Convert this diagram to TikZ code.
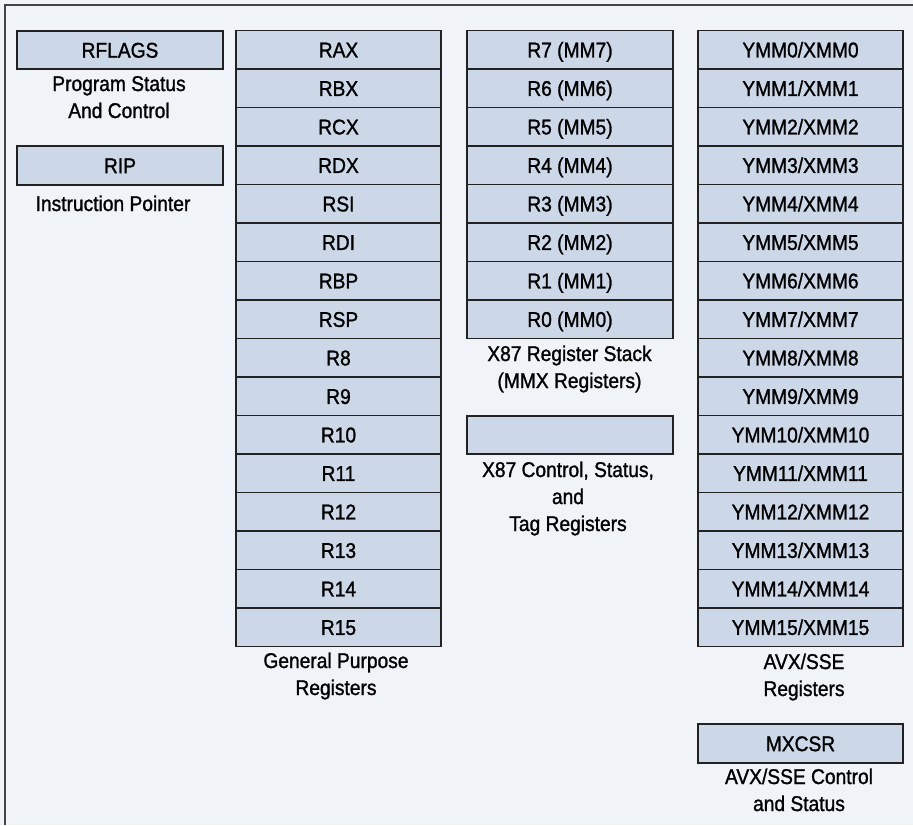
\documentclass[tikz,border=0pt]{standalone}
\usepackage{fontspec}
\setmainfont[FakeStretch=0.9,FakeBold=1.2]{Liberation Sans}
\definecolor{bgc}{HTML}{F0F3F8}
\definecolor{boxfill}{HTML}{CCD8E8}
\definecolor{boxline}{HTML}{222222}
\definecolor{framec}{HTML}{444444}
\begin{document}
\begin{tikzpicture}[x=0.75pt,y=-0.75pt,
  regbox/.style={draw=boxline,fill=boxfill,line width=1.3pt,minimum width=154pt,minimum height=28.875pt,inner sep=0pt,text height=11.46pt,text depth=0pt,font=\fontsize{16}{20.25}\selectfont},
  lbl/.style={align=center,anchor=base,inner sep=0pt,font=\fontsize{16}{20.25}\selectfont}]
\useasboundingbox (0,0) rectangle (913,825);
\fill[bgc] (0,0) rectangle (913,825);
\coordinate (ftl) at (4.5,4.5);
\coordinate (ftr) at (913,4.5);
\coordinate (fbl) at (4.5,825);
\draw[framec,line width=1.5pt] (ftr) -- (ftl) -- (fbl);
% left column
\node[regbox] (rflags) at (120,50) {RFLAGS};
\node[regbox] (rip) at (120,165.5) {RIP};
\node[lbl] (pslbl) at (119,118) {Program Status\\And Control};
\node[lbl] (iplbl) at (113,211) {Instruction Pointer};
% general purpose
\foreach \t [count=\i] in {RAX,RBX,RCX,RDX,RSI,RDI,RBP,RSP,R8,R9,R10,R11,R12,R13,R14,R15}
  \node[regbox] (gpr\i) at (338.5,{30.5+38.5*(\i-0.5)}) {\t};
\node[lbl] (gprlbl) at (336,695) {General Purpose\\Registers};
% x87
\foreach \t [count=\i] in {R7 (MM7),R6 (MM6),R5 (MM5),R4 (MM4),R3 (MM3),R2 (MM2),R1 (MM1),R0 (MM0)}
  \node[regbox] (xst\i) at (570,{30.5+38.5*(\i-0.5)}) {\t};
\node[lbl] (xstlbl) at (569.5,388) {X87 Register Stack\\(MMX Registers)};
\node[regbox] (xctl) at (570,435) {};
\node[lbl] (xctllbl) at (568,531) {X87 Control, Status,\\and\\Tag Registers};
% AVX/SSE
\foreach \i in {0,...,15}
  \node[regbox] (ymm\i) at (800.5,{30.5+38.5*(\i+0.5)}) {YMM\i/XMM\i};
\node[lbl] (avxlbl) at (804,696) {AVX/SSE\\Registers};
\node[regbox] (mxcsr) at (800.5,743.5) {MXCSR};
\node[lbl] (mxlbl) at (799,811) {AVX/SSE Control\\and Status};
\end{tikzpicture}
\end{document}
